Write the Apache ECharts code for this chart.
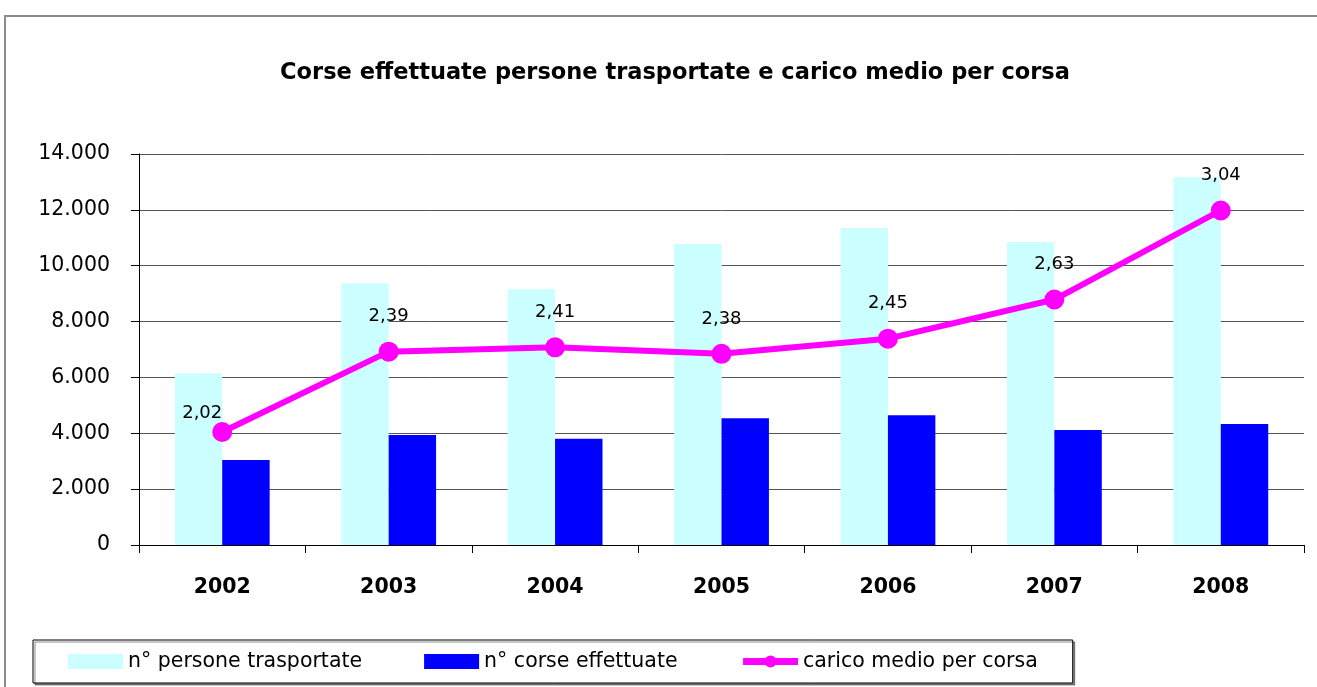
<!DOCTYPE html>
<html>
<head>
<meta charset="utf-8">
<script src="https://cdn.jsdelivr.net/npm/echarts@6/dist/echarts.min.js"></script>
<style>
html, body { margin: 0; padding: 0; background: #fff; }
#chart { width: 1317px; height: 687px; }
</style>
</head>
<body>
<div id="chart"></div>
<script>
// dati
var anni = ['2002', '2003', '2004', '2005', '2006', '2007', '2008'];
var persone = [6150, 9370, 9160, 10780, 11350, 10850, 13170];
var corse = [3040, 3940, 3800, 4540, 4650, 4120, 4330];
var carico = [2.02, 2.39, 2.41, 2.38, 2.45, 2.63, 3.04];

var font = 'DejaVu Sans';

function fmtMigliaia(v){
    return String(v).replace(/\B(?=(\d{3})+(?!\d))/g, '.');
}

var caricoData = carico.map(function(v, i){
    var d = {value: v};
    if(i == 0) d.label = {offset: [-20, 16]};
    return d;
});

var chart = echarts.init(document.getElementById('chart'));
chart.setOption({
    animation: false,
    textStyle: {fontFamily: font},
    graphic: [{
        type: 'rect',
        shape: {x: 5, y: 16, width: 1400, height: 800},
        style: {fill: 'none', stroke: '#8c8c8c', lineWidth: 2},
        silent: true
    }],
    title: {
        text: 'Corse effettuate persone trasportate e carico medio per corsa',
        left: 670,
        textAlign: 'center',
        top: 57,
        textStyle: {fontFamily: font, fontSize: 22.5, fontWeight: 'bold', color: '#000'}
    },
    legend: {
        left: 33,
        top: 640,
        padding: [11, 35, 11, 35],
        itemGap: 62,
        itemWidth: 55,
        itemHeight: 15,
        borderColor: '#000',
        borderWidth: 1,
        backgroundColor: '#fff',
        shadowColor: 'rgba(0,0,0,0.45)',
        shadowOffsetX: 2,
        shadowOffsetY: 2,
        textStyle: {fontFamily: font, fontSize: 20.5, color: '#000'},
        data: [
            {name: 'n° persone trasportate', icon: 'rect'},
            {name: 'n° corse effettuate', icon: 'rect'},
            {name: 'carico medio per corsa', lineStyle: {width: 7}}
        ]
    },
    grid: {left: 139, right: 13, top: 154, bottom: 142},
    xAxis: {
        type: 'category',
        data: anni,
        axisLine: {lineStyle: {color: '#000', width: 1}},
        axisTick: {show: true, length: 8, lineStyle: {color: '#000'}},
        axisLabel: {margin: 32, fontSize: 20.5, fontWeight: 'bold', color: '#000'}
    },
    yAxis: [{
        type: 'value',
        min: 0,
        max: 14000,
        interval: 2000,
        axisLine: {show: true, lineStyle: {color: '#000'}},
        axisTick: {show: true, length: 8, lineStyle: {color: '#000'}},
        axisLabel: {margin: 29, fontSize: 20.5, color: '#000', formatter: fmtMigliaia},
        splitLine: {lineStyle: {color: '#555', width: 1}}
    }, {
        type: 'value',
        min: 1.5,
        max: 3.3,
        show: false,
        splitLine: {show: false}
    }],
    series: [{
        name: 'n° persone trasportate',
        type: 'bar',
        data: persone,
        barGap: '0%',
        barCategoryGap: '43%',
        itemStyle: {color: '#ccffff'}
    }, {
        name: 'n° corse effettuate',
        type: 'bar',
        data: corse,
        itemStyle: {color: '#0000ff'}
    }, {
        name: 'carico medio per corsa',
        type: 'line',
        yAxisIndex: 1,
        data: caricoData,
        symbol: 'circle',
        symbolSize: 20,
        itemStyle: {color: '#ff00ff'},
        lineStyle: {color: '#ff00ff', width: 6},
        z: 5,
        label: {
            show: true,
            position: 'top',
            distance: 16,
            fontSize: 18,
            color: '#000',
            fontFamily: font,
            formatter: function(p){ return p.value.toFixed(2).replace('.', ','); }
        }
    }]
});
</script>
</body>
</html>
